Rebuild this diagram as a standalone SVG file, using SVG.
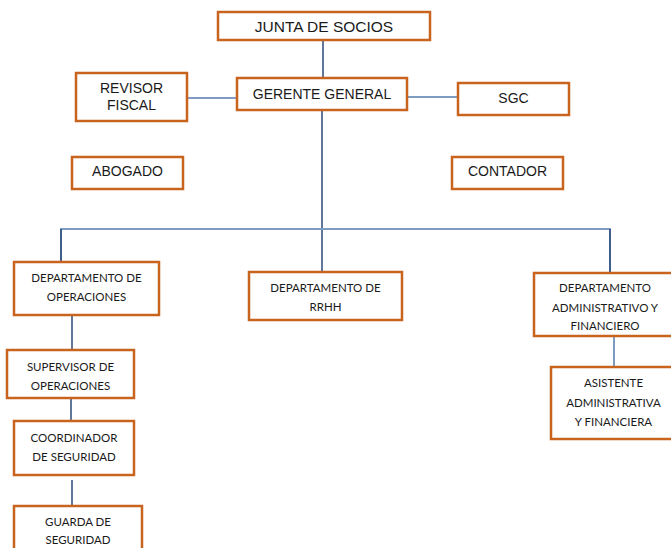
<svg xmlns="http://www.w3.org/2000/svg" width="671" height="548" viewBox="0 0 671 548">
<style>
.box{fill:#fff;stroke:#C8641E;stroke-width:2.5}
.t1{font-family:"Liberation Sans",Arial,sans-serif;font-size:14px;fill:#1a1a1a;text-anchor:middle}
.t2{font-family:Lato,"Open Sans",sans-serif;font-size:11.5px;fill:#1a1a1a;text-anchor:middle}
.dk{stroke:#2B4A7A;stroke-width:1.5;fill:none}
.lt{stroke:#7E9CC2;stroke-width:2;fill:none}
</style>
<rect width="671" height="548" fill="#fff"/>
<g id="connectors">
<line class="dk" x1="323" y1="40" x2="323" y2="78"/>
<line class="lt" x1="187" y1="98" x2="237" y2="98"/>
<line class="lt" x1="407" y1="97" x2="458" y2="97"/>
<line class="dk" x1="322" y1="110" x2="322" y2="272"/>
<polyline class="lt" points="61,261 61,229 610,229 610,273"/>
<line class="dk" x1="61" y1="229" x2="61" y2="262"/>
<line class="dk" x1="610" y1="229" x2="610" y2="273"/>
<line class="dk" x1="72" y1="315" x2="72" y2="350"/>
<line class="dk" x1="71" y1="398" x2="71" y2="421"/>
<line class="dk" x1="72" y1="480" x2="72" y2="506"/>
<line class="lt" x1="614" y1="336" x2="614" y2="367"/>
</g>
<g id="junta"><rect class="box" x="218" y="12" width="212" height="28"/><text class="t1" x="324" y="32" style="font-size:15.5px">JUNTA DE SOCIOS</text></g>
<g id="gerente"><rect class="box" x="237" y="78" width="170" height="32"/><text class="t1" x="322" y="99">GERENTE GENERAL</text></g>
<g id="revisor"><rect class="box" x="76" y="73" width="111" height="48"/><text class="t1" x="131.5" y="93">REVISOR</text><text class="t1" x="131.5" y="110">FISCAL</text></g>
<g id="sgc"><rect class="box" x="458" y="83" width="111" height="32"/><text class="t1" x="513.5" y="103">SGC</text></g>
<g id="abogado"><rect class="box" x="72" y="157" width="111" height="32"/><text class="t1" x="127.5" y="176">ABOGADO</text></g>
<g id="contador"><rect class="box" x="452" y="157" width="111" height="32"/><text class="t1" x="507.5" y="176">CONTADOR</text></g>
<g id="dep-operaciones"><rect class="box" x="14" y="262" width="145" height="53"/><text class="t2" x="86.5" y="282">DEPARTAMENTO DE</text><text class="t2" x="86.5" y="301">OPERACIONES</text></g>
<g id="dep-rrhh"><rect class="box" x="249" y="272" width="153" height="48"/><text class="t2" x="325.5" y="292">DEPARTAMENTO DE</text><text class="t2" x="325.5" y="311">RRHH</text></g>
<g id="dep-admin"><rect class="box" x="534" y="273" width="143" height="63"/><text class="t2" x="605" y="292">DEPARTAMENTO</text><text class="t2" x="605" y="312">ADMINISTRATIVO Y</text><text class="t2" x="605" y="330">FINANCIERO</text></g>
<g id="supervisor"><rect class="box" x="7" y="350" width="127" height="48"/><text class="t2" x="70.5" y="371">SUPERVISOR DE</text><text class="t2" x="70.5" y="390">OPERACIONES</text></g>
<g id="coordinador"><rect class="box" x="14" y="421" width="120" height="54"/><text class="t2" x="74" y="442">COORDINADOR</text><text class="t2" x="74" y="461">DE SEGURIDAD</text></g>
<g id="guarda"><rect class="box" x="14" y="506" width="128" height="50"/><text class="t2" x="78" y="526">GUARDA DE</text><text class="t2" x="78" y="544">SEGURIDAD</text></g>
<g id="asistente"><rect class="box" x="551" y="367" width="126" height="72"/><text class="t2" x="613.5" y="387">ASISTENTE</text><text class="t2" x="613.5" y="407">ADMINISTRATIVA</text><text class="t2" x="613.5" y="426">Y FINANCIERA</text></g>
</svg>
